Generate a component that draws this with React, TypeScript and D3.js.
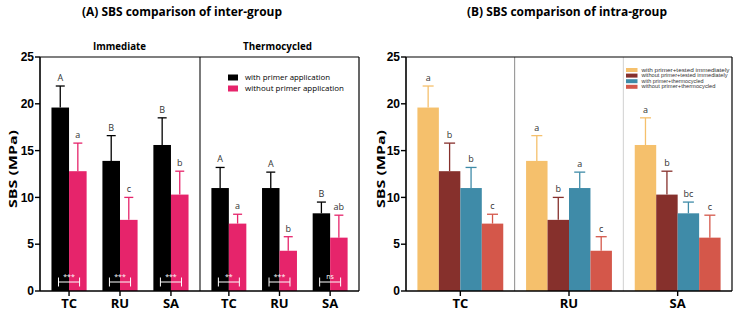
import React from 'react';
import * as d3 from 'd3';

// values (MPa)
const groups = ['TC', 'RU', 'SA'];
const withImm = [19.6, 13.9, 15.6];
const withImmSd = [2.3, 2.7, 2.9];
const withoutImm = [12.8, 7.6, 10.3];
const withoutImmSd = [3.0, 2.4, 2.5];
const withThermo = [11.0, 11.0, 8.3];
const withThermoSd = [2.2, 1.7, 1.2];
const withoutThermo = [7.2, 4.3, 5.7];
const withoutThermoSd = [1.0, 1.5, 2.4];

// letters, panel A
const immLetters = [['A', 'a'], ['B', 'c'], ['B', 'b']];
const thermoLetters = [['A', 'a'], ['A', 'b'], ['B', 'ab']];
const immSig = ['***', '***', '***'];
const thermoSig = ['**', '***', 'ns'];
// letters, panel B
const intraLetters = [['a', 'b', 'b', 'c'], ['a', 'b', 'a', 'c'], ['a', 'b', 'bc', 'c']];

const yTicks = [0, 5, 10, 15, 20, 25];
const legendA = ['with primer application', 'without primer application'];
const legendB = [
  'with primer+tested immediately',
  'without primer+tested immediately',
  'with primer+thermocycled',
  'without primer+thermocycled',
];

const pairColors = ['#000000', '#e6246b'];
const quadColors = ['#f5c06c', '#86302c', '#3f8ba8', '#d4574a'];

const W = 739, H = 316;
const font = '"Open Sans", sans-serif';

const y = d3.scaleLinear().domain([0, 25]).range([291, 57]);

function YAxis({ x0, right }: { x0: number; right: number }) {
  return (
    <g>
      <line x1={x0} x2={x0} y1={y(25)} y2={y(0)} stroke="#000" strokeWidth={1.6} />
      <line x1={x0} x2={right} y1={y(0)} y2={y(0)} stroke="#000" strokeWidth={1.6} />
      <line x1={x0} x2={right} y1={y(25)} y2={y(25)} stroke="#000" strokeWidth={1.2} />
      <line x1={right} x2={right} y1={y(25)} y2={y(0)} stroke="#000" strokeWidth={1.2} />
      {yTicks.map(t => (
        <g key={t}>
          <line x1={x0 - 5} x2={x0} y1={y(t)} y2={y(t)} stroke="#000" strokeWidth={1.4} />
          <text x={x0 - 6} y={y(t)} dy="0.35em" textAnchor="end" fontSize={12}
            fontWeight={700} fontFamily="Arial, 'Liberation Sans'">{t}</text>
        </g>
      ))}
    </g>
  );
}

function ErrBar({ cx, v, sd, color, cap, label }: any) {
  const top = y(v + sd);
  return (
    <g>
      <line x1={cx} x2={cx} y1={y(v)} y2={top} stroke={color} strokeWidth={1.3} />
      <line x1={cx - cap / 2} x2={cx + cap / 2} y1={top} y2={top} stroke={color} strokeWidth={1.3} />
      <text x={cx} y={top - 5} textAnchor="middle" fontSize={9} fill="#333" fontFamily={font}>{label}</text>
    </g>
  );
}

function PanelA() {
  const left = 40, mid = 200, right = 359;
  const halves = [
    { range: [left, mid], vals: [withImm, withoutImm], sds: [withImmSd, withoutImmSd], letters: immLetters, sig: immSig },
    { range: [mid, right], vals: [withThermo, withoutThermo], sds: [withThermoSd, withoutThermoSd], letters: thermoLetters, sig: thermoSig },
  ];
  return (
    <g>
      <text x={182} y={16} textAnchor="middle" fontSize={13} fontWeight={700} fontFamily={font}
        textLength={200} lengthAdjust="spacingAndGlyphs">(A) SBS comparison of inter-group</text>
      <text x={119.5} y={50} textAnchor="middle" fontSize={11} fontWeight={700} fontFamily={font}
        textLength={53} lengthAdjust="spacingAndGlyphs">Immediate</text>
      <text x={277.5} y={50} textAnchor="middle" fontSize={11} fontWeight={700} fontFamily={font}
        textLength={69} lengthAdjust="spacingAndGlyphs">Thermocycled</text>
      <text transform={`translate(13,169) rotate(-90)`} textAnchor="middle" dy="0.35em" fontSize={11} fontWeight={700}
        fontFamily={font} textLength={78} lengthAdjust="spacingAndGlyphs">SBS (MPa)</text>
      {halves.map((h, hi) => {
        const xb = d3.scaleBand<string>().domain(groups).range(h.range as [number, number])
          .paddingInner(0.31).paddingOuter(0.225);
        const xi = d3.scaleBand<number>().domain([0, 1]).range([0, xb.bandwidth()]);
        return (
          <g key={hi}>
            {groups.map((g, gi) => {
              const x0 = xb(g)!;
              const cxPair = x0 + xb.bandwidth() / 2;
              const bx0 = x0 + xb.bandwidth() * 0.2, bx1 = x0 + xb.bandwidth() * 0.8;
              return (
                <g key={g}>
                  {[0, 1].map(s => (
                    <rect key={s} x={x0 + xi(s)!} y={y(h.vals[s][gi])} width={xi.bandwidth()}
                      height={y(0) - y(h.vals[s][gi])} fill={pairColors[s]} />
                  ))}
                  {[0, 1].map(s => (
                    <ErrBar key={'e' + s} cx={x0 + xi(s)! + xi.bandwidth() / 2} v={h.vals[s][gi]} sd={h.sds[s][gi]}
                      color={pairColors[s]} cap={9} label={h.letters[gi][s]} />
                  ))}
                  <g stroke="#fff" strokeWidth={1}>
                    <line x1={bx0} x2={bx1} y1={282} y2={282} />
                    <line x1={bx0} x2={bx0} y1={277.5} y2={286.5} />
                    <line x1={bx1} x2={bx1} y1={277.5} y2={286.5} />
                  </g>
                  <text x={cxPair} y={279} textAnchor="middle" fontSize={7} fill="#fff" fontFamily={font}>{h.sig[gi]}</text>
                  <line x1={cxPair} x2={cxPair} y1={y(0)} y2={y(0) + 5} stroke="#000" strokeWidth={1.4} />
                  <text x={cxPair} y={308} textAnchor="middle" fontSize={13} fontWeight={700} fontFamily={font}>{g}</text>
                </g>
              );
            })}
          </g>
        );
      })}
      <line x1={mid} x2={mid} y1={y(25)} y2={y(0)} stroke="#222" strokeWidth={1.2} />
      <YAxis x0={left} right={right} />
      {legendA.map((t, i) => (
        <g key={t}>
          <rect x={228} y={74.5 + i * 11} width={10} height={6} fill={pairColors[i]} />
          <text x={245} y={77.5 + i * 11} dy="0.35em" fontSize={8} fontFamily={font}
            textLength={i === 0 ? 85 : 99} lengthAdjust="spacingAndGlyphs">{t}</text>
        </g>
      ))}
    </g>
  );
}

function PanelB() {
  const left = 406, right = 732;
  const xb = d3.scaleBand<string>().domain(groups).range([left, right]).paddingInner(0.21).paddingOuter(0.105);
  const xi = d3.scaleBand<number>().domain([0, 1, 2, 3]).range([0, xb.bandwidth()]);
  const series = [withImm, withoutImm, withThermo, withoutThermo];
  const sds = [withImmSd, withoutImmSd, withThermoSd, withoutThermoSd];
  const legW = [88, 86, 62, 74];
  const step = xb.step();
  return (
    <g>
      <text x={567} y={16} textAnchor="middle" fontSize={13} fontWeight={700} fontFamily={font}
        textLength={200} lengthAdjust="spacingAndGlyphs">(B) SBS comparison of intra-group</text>
      <text transform={`translate(381,169) rotate(-90)`} textAnchor="middle" dy="0.35em" fontSize={11} fontWeight={700}
        fontFamily={font} textLength={78} lengthAdjust="spacingAndGlyphs">SBS (MPa)</text>
      <line x1={left + step} x2={left + step} y1={y(25)} y2={y(0)} stroke="#8a8a8a" strokeWidth={1} />
      <line x1={left + 2 * step} x2={left + 2 * step} y1={y(25)} y2={y(0)} stroke="#d0d0d0" strokeWidth={1} />
      {groups.map((g, gi) => {
        const x0 = xb(g)!;
        const cx = x0 + xb.bandwidth() / 2;
        return (
          <g key={g}>
            {series.map((s, si) => (
              <rect key={si} x={x0 + xi(si)!} y={y(s[gi])} width={xi.bandwidth()}
                height={y(0) - y(s[gi])} fill={quadColors[si]} />
            ))}
            {series.map((s, si) => (
              <ErrBar key={'e' + si} cx={x0 + xi(si)! + xi.bandwidth() / 2} v={s[gi]} sd={sds[si][gi]}
                color={quadColors[si]} cap={11} label={intraLetters[gi][si]} />
            ))}
            <line x1={cx} x2={cx} y1={y(0)} y2={y(0) + 5} stroke="#000" strokeWidth={1.4} />
            <text x={cx} y={308} textAnchor="middle" fontSize={13} fontWeight={700} fontFamily={font}>{g}</text>
          </g>
        );
      })}
      <YAxis x0={left} right={right} />
      {legendB.map((t, i) => (
        <g key={t}>
          <rect x={626} y={68 + i * 5.6} width={11.5} height={4} fill={quadColors[i]} />
          <text x={641.5} y={70 + i * 5.6} dy="0.35em" fontSize={4.7} fill="#333"
            fontFamily="Arial, 'Liberation Sans'" textLength={legW[i]} lengthAdjust="spacingAndGlyphs">{t}</text>
        </g>
      ))}
    </g>
  );
}

export default function App() {
  return (
    <svg width={W} height={H} style={{ position: 'absolute', left: 0, top: 0, background: '#fff' }}>
      <PanelA />
      <PanelB />
    </svg>
  );
}
